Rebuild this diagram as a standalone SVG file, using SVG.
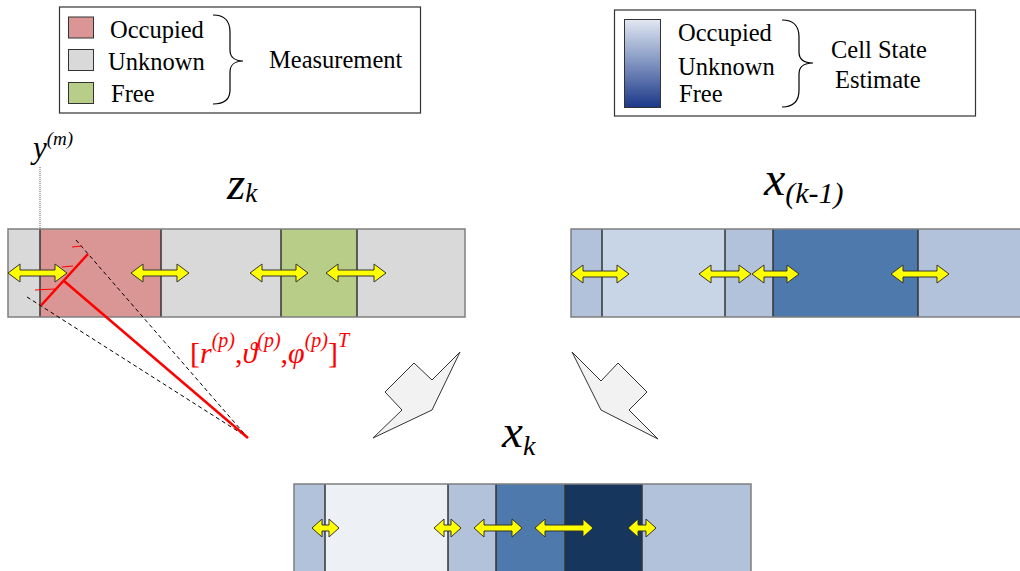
<svg xmlns="http://www.w3.org/2000/svg" width="1020" height="571" viewBox="0 0 1020 571">
<defs>
<linearGradient id="grad" x1="0" y1="0" x2="0" y2="1">
<stop offset="0" stop-color="#e2e8f2"/>
<stop offset="0.5" stop-color="#7f93c0"/>
<stop offset="1" stop-color="#1c3888"/>
</linearGradient>
<style>
text{font-family:'Liberation Serif','DejaVu Serif',serif;}
.lg{font-size:24.5px;}
.box{fill:#fff;stroke:#333;stroke-width:1.2;}
.sw{stroke:#333;stroke-width:1;}
.brace{fill:none;stroke:#000;stroke-width:1.2;}
.bar{stroke:none;}
.outline{fill:none;stroke:#7f7f7f;stroke-width:1.5;}
.div{stroke:#333;stroke-width:1.5;}
.ya{fill:#ffff00;stroke:#333;stroke-width:1;}
.bolt{fill:#f2f2f2;stroke:#333;stroke-width:1;}
.it{font-style:italic;}
.red{fill:#ff0000;}
</style>
</defs>
<rect width="1020" height="571" fill="#fff"/>

<g id="legend-measurement">
<rect class="box" x="59.5" y="7" width="361" height="106"/>
<rect class="sw" x="68.5" y="17" width="25" height="21" fill="#d99694"/>
<rect class="sw" x="68.5" y="49.5" width="25" height="21" fill="#d9d9d9"/>
<rect class="sw" x="68.5" y="82.5" width="25" height="21" fill="#b8cd88"/>
<text class="lg" x="110" y="37.5">Occupied</text>
<text class="lg" x="108" y="70">Unknown</text>
<text class="lg" x="111" y="101.5">Free</text>
<path class="brace" d="M213,15 C225,15 230,21 230,32 L230,50 C230,57 235,61 243,61 C235,61 230,65 230,72 L230,90 C230,99 225,104 213,104"/>
<text class="lg" x="269" y="68">Measurement</text>
</g>

<g id="legend-estimate">
<rect class="box" x="614.5" y="10" width="361" height="106"/>
<rect class="sw" x="624.5" y="19.5" width="36" height="88" fill="url(#grad)"/>
<text class="lg" x="678" y="41">Occupied</text>
<text class="lg" x="678" y="74.5">Unknown</text>
<text class="lg" x="679" y="102">Free</text>
<path class="brace" d="M782,20 C794,20 799,26 799,37 L799,52 C799,59 804,63 813,63 C804,63 799,67 799,74 L799,90 C799,101 794,107 782,107"/>
<text class="lg" x="831" y="58">Cell State</text>
<text class="lg" x="835" y="88">Estimate</text>
</g>

<g id="bar-zk">
<rect class="bar" x="8" y="229" width="32" height="88" fill="#d9d9d9"/>
<rect class="bar" x="40" y="229" width="121" height="88" fill="#d99694"/>
<rect class="bar" x="161" y="229" width="120" height="88" fill="#d9d9d9"/>
<rect class="bar" x="281" y="229" width="76" height="88" fill="#b8cd88"/>
<rect class="bar" x="357" y="229" width="108" height="88" fill="#d9d9d9"/>
<line class="div" x1="40" y1="229" x2="40" y2="317"/>
<line class="div" x1="161" y1="229" x2="161" y2="317"/>
<line class="div" x1="281" y1="229" x2="281" y2="317"/>
<line class="div" x1="357" y1="229" x2="357" y2="317"/>
<rect class="outline" x="8" y="229" width="457" height="88"/>
<text class="it" x="227" y="199" font-size="47">z<tspan font-size="27" dy="3">k</tspan></text>
</g>

<g id="bar-xk1">
<rect class="bar" x="571" y="229" width="31" height="88" fill="#b1c2da"/>
<rect class="bar" x="602" y="229" width="123" height="88" fill="#c8d5e6"/>
<rect class="bar" x="725" y="229" width="48" height="88" fill="#b1c2da"/>
<rect class="bar" x="773" y="229" width="145" height="88" fill="#4e79ac"/>
<rect class="bar" x="918" y="229" width="104" height="88" fill="#b1c2da"/>
<line class="div" x1="602" y1="229" x2="602" y2="317"/>
<line class="div" x1="725" y1="229" x2="725" y2="317"/>
<line class="div" x1="773" y1="229" x2="773" y2="317"/>
<line class="div" x1="918" y1="229" x2="918" y2="317"/>
<rect class="outline" x="571" y="229" width="452" height="88"/>
<text class="it" x="764" y="195" font-size="48">x<tspan font-size="30" dy="8">(k-1)</tspan></text>
</g>

<g id="bar-xk">
<rect class="bar" x="294" y="484" width="31" height="90" fill="#b1c2da"/>
<rect class="bar" x="325" y="484" width="123" height="90" fill="#edf1f6"/>
<rect class="bar" x="448" y="484" width="48" height="90" fill="#b1c2da"/>
<rect class="bar" x="496" y="484" width="69" height="90" fill="#4e79ac"/>
<rect class="bar" x="565" y="484" width="77" height="90" fill="#17365d"/>
<rect class="bar" x="642" y="484" width="109" height="90" fill="#b1c2da"/>
<line class="div" x1="325" y1="484" x2="325" y2="571"/>
<line class="div" x1="448" y1="484" x2="448" y2="571"/>
<line class="div" x1="496" y1="484" x2="496" y2="571"/>
<line class="div" x1="565" y1="484" x2="565" y2="571"/>
<line class="div" x1="642" y1="484" x2="642" y2="571"/>
<rect class="outline" x="294" y="484" width="457" height="90"/>
<text class="it" x="502" y="447" font-size="47">x<tspan font-size="28" dy="8">k</tspan></text>
</g>

<g id="sensor">
<text class="it" x="33" y="158" font-size="31">y<tspan font-size="19" dy="-13">(m)</tspan></text>
<line x1="40" y1="167" x2="40" y2="229" stroke="#555" stroke-width="1" stroke-dasharray="1,1"/>
<line x1="76" y1="240" x2="248" y2="438" stroke="#000" stroke-width="1" stroke-dasharray="4,3"/>
<line x1="27" y1="297" x2="247" y2="437" stroke="#000" stroke-width="1" stroke-dasharray="4,3"/>
<line x1="41" y1="305.5" x2="88" y2="254" stroke="#ff0000" stroke-width="2.5"/>
<line x1="64" y1="281" x2="248" y2="438" stroke="#ff0000" stroke-width="2.5"/>
<line x1="72" y1="247" x2="82" y2="246" stroke="#ff0000" stroke-width="1"/>
<line x1="62" y1="267" x2="73" y2="266" stroke="#ff0000" stroke-width="1"/>
<line x1="35" y1="290" x2="55" y2="289" stroke="#ff0000" stroke-width="1"/>
<text class="red" x="190" y="363" font-size="30">[<tspan class="it">r</tspan><tspan class="it" font-size="20" dy="-16">(p)</tspan><tspan dy="16">,</tspan><tspan class="it">ϑ</tspan><tspan class="it" font-size="20" dy="-16">(p)</tspan><tspan dy="16">,</tspan><tspan class="it">φ</tspan><tspan class="it" font-size="20" dy="-16">(p)</tspan><tspan dy="16">]</tspan><tspan class="it" font-size="20" dy="-16">T</tspan></text>
</g>

<g id="connectors">
<path class="ya" d="M8,273 L20,264 L20,270 L55,270 L55,264 L67,273 L55,282 L55,276 L20,276 L20,282 Z"/>
<path class="ya" d="M131,273 L143,264 L143,270 L177,270 L177,264 L189,273 L177,282 L177,276 L143,276 L143,282 Z"/>
<path class="ya" d="M250,273 L262,264 L262,270 L296,270 L296,264 L308,273 L296,282 L296,276 L262,276 L262,282 Z"/>
<path class="ya" d="M326,273 L338,264 L338,270 L374,270 L374,264 L386,273 L374,282 L374,276 L338,276 L338,282 Z"/>
<path class="ya" d="M571,274 L583,265 L583,271 L617,271 L617,265 L629,274 L617,283 L617,277 L583,277 L583,283 Z"/>
<path class="ya" d="M699,274 L711,265 L711,271 L739,271 L739,265 L751,274 L739,283 L739,277 L711,277 L711,283 Z"/>
<path class="ya" d="M752,274 L764,265 L764,271 L787,271 L787,265 L799,274 L787,283 L787,277 L764,277 L764,283 Z"/>
<path class="ya" d="M891,274 L903,265 L903,271 L937,271 L937,265 L949,274 L937,283 L937,277 L903,277 L903,283 Z"/>
<path class="ya" d="M312,528 L322,519 L322,525 L329,525 L329,519 L339,528 L329,537 L329,531 L322,531 L322,537 Z"/>
<path class="ya" d="M434,528 L444,519 L444,525 L451,525 L451,519 L461,528 L451,537 L451,531 L444,531 L444,537 Z"/>
<path class="ya" d="M474,528 L484,519 L484,525 L512,525 L512,519 L522,528 L512,537 L512,531 L484,531 L484,537 Z"/>
<path class="ya" d="M535,528 L545,519 L545,525 L583,525 L583,519 L593,528 L583,537 L583,531 L545,531 L545,537 Z"/>
<path class="ya" d="M628,528 L638,519 L638,525 L646,525 L646,519 L656,528 L646,537 L646,531 L638,531 L638,537 Z"/>
<polygon class="bolt" points="460,352 432,380 414,363 385,392 402,410 373,438 432,410"/>
<polygon class="bolt" points="572,352 601,381 618,363 647,392 629,410 658,439 601,410"/>
</g>
</svg>
